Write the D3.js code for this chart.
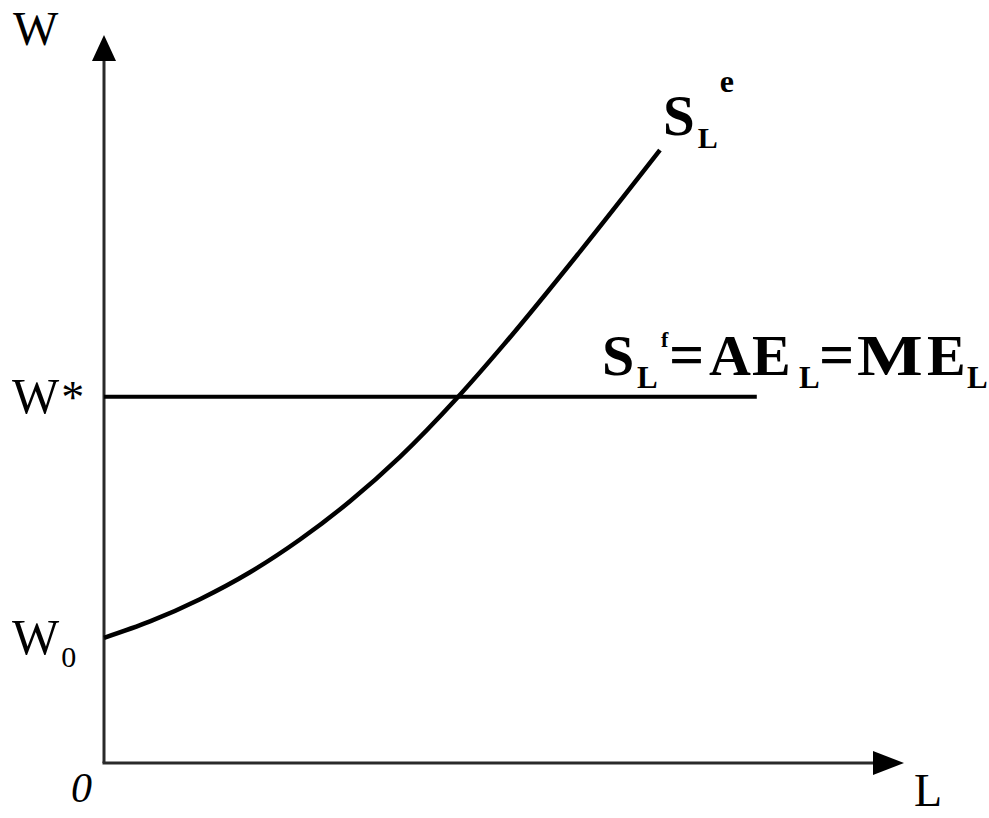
<!DOCTYPE html>
<html>
<head>
<meta charset="utf-8">
<script src="https://cdn.jsdelivr.net/npm/d3@7"></script>
<style>
  html, body { margin: 0; padding: 0; background: #fff; }
  svg { display: block; }
  text { font-family: "Liberation Serif", "Times New Roman", serif; fill: #000; }
</style>
</head>
<body>
<svg id="chart" width="989" height="818"></svg>
<script>
// Labour supply curve S_L^e (points along the curve, L vs W)
const supplyL = [0, 5.75, 12, 18.25, 24.5, 30.75, 37, 44.1, 50, 59.5, 69.5];
const supplyW = [17.2, 19.45, 22.5, 26.2, 30.7, 35.95, 42.05, 50.1, 57.5, 70.25, 84.2];

// Flat supply / average / marginal expenditure at the going wage
const wStar = 50.3;
const flatLineL = [0, 81.6];

// Intercept of the supply curve on the wage axis
const w0 = 17.2;

// Axis titles and wage-level labels
const axisLabels = { y: "W", x: "L", origin: "0" };
const wageLabels = { star: "W", starMark: "*", zero: "W", zeroSub: "0" };

const svg = d3.select("#chart");

const x = d3.scaleLinear().domain([0, 100]).range([104, 904]);
const y = d3.scaleLinear().domain([0, 100]).range([763, 35]);

// Axes with arrowheads
const axisColor = "#2a2a2a";
svg.append("line")
  .attr("x1", x(0)).attr("y1", y(0))
  .attr("x2", x(0)).attr("y2", y(100) + 22)
  .attr("stroke", axisColor).attr("stroke-width", 3);
svg.append("line")
  .attr("x1", x(0) - 1.5).attr("y1", y(0))
  .attr("x2", x(100) - 28).attr("y2", y(0))
  .attr("stroke", axisColor).attr("stroke-width", 3);

svg.append("path")
  .attr("d", d3.line()([[x(0), y(100)], [x(0) - 12, y(100) + 26], [x(0) + 12, y(100) + 26]]) + "Z")
  .attr("fill", "#000");
svg.append("path")
  .attr("d", d3.line()([[x(100), y(0)], [x(100) - 31, y(0) - 12], [x(100) - 31, y(0) + 12]]) + "Z")
  .attr("fill", "#000");

// Horizontal wage line
svg.append("line")
  .attr("x1", x(flatLineL[0])).attr("y1", y(wStar))
  .attr("x2", x(flatLineL[1])).attr("y2", y(wStar))
  .attr("stroke", "#000").attr("stroke-width", 4);

// Upward sloping supply curve
const pts = supplyL.map((l, i) => [l, supplyW[i]]);
svg.append("path")
  .datum(pts)
  .attr("fill", "none")
  .attr("stroke", "#000")
  .attr("stroke-width", 4.5)
  .attr("d", d3.line().x(d => x(d[0])).y(d => y(d[1])).curve(d3.curveMonotoneX));

// Axis labels
svg.append("text").attr("x", 13).attr("y", 45).attr("font-size", 48).text(axisLabels.y);
svg.append("text").attr("x", 914).attr("y", 806).attr("font-size", 46).text(axisLabels.x);
svg.append("text").attr("x", 71).attr("y", 802).attr("font-size", 42).attr("font-style", "italic").text(axisLabels.origin);

// Wage labels on the vertical axis
const ws = svg.append("text").attr("x", 12).attr("y", y(wStar) + 16).attr("font-size", 50);
ws.append("tspan").text(wageLabels.star);
ws.append("tspan").attr("font-size", 46).attr("dx", 2).attr("dy", 0).text(wageLabels.starMark);

const wz = svg.append("text").attr("x", 12).attr("y", y(w0) + 16).attr("font-size", 50);
wz.append("tspan").text(wageLabels.zero);
wz.append("tspan").attr("font-size", 30).attr("dx", 2).attr("dy", 13).text(wageLabels.zeroSub);

// Curve label S_L^e
const se = svg.append("text").attr("x", 663).attr("y", 135).attr("font-size", 57).attr("font-weight", "bold");
se.append("tspan").text("S");
se.append("tspan").attr("font-size", 30).attr("dx", 3).attr("dy", 13).text("L");
se.append("tspan").attr("font-size", 32).attr("dx", 2).attr("dy", -56).text("e");

// Line label S_L^f = AE_L = ME_L, pieces laid out left to right
const sfBase = 375;
const sfParts = [
  { t: "S", size: 58, x: 602, dy: 0,   sx: 1 },
  { t: "L", size: 31, x: 637, dy: 13,  sx: 1 },
  { t: "f", size: 22, x: 661, dy: -28, sx: 1 },
  { t: "=", size: 62, x: 669, dy: 0,   sx: 1 },
  { t: "A", size: 58, x: 709, dy: 0,   sx: 1 },
  { t: "E", size: 58, x: 752, dy: 0,   sx: 1 },
  { t: "L", size: 31, x: 799, dy: 13,  sx: 1 },
  { t: "=", size: 62, x: 819, dy: 0,   sx: 1 },
  { t: "M", size: 58, x: 857, dy: 0,   sx: 1.2 },
  { t: "E", size: 58, x: 927, dy: 0,   sx: 1 },
  { t: "L", size: 31, x: 967, dy: 13,  sx: 1 }
];
const sf = svg.append("g").attr("font-weight", "bold");
sfParts.forEach(p => {
  sf.append("text")
    .attr("transform", `translate(${p.x},${sfBase + p.dy}) scale(${p.sx},1)`)
    .attr("font-size", p.size)
    .text(p.t);
});
</script>
</body>
</html>
